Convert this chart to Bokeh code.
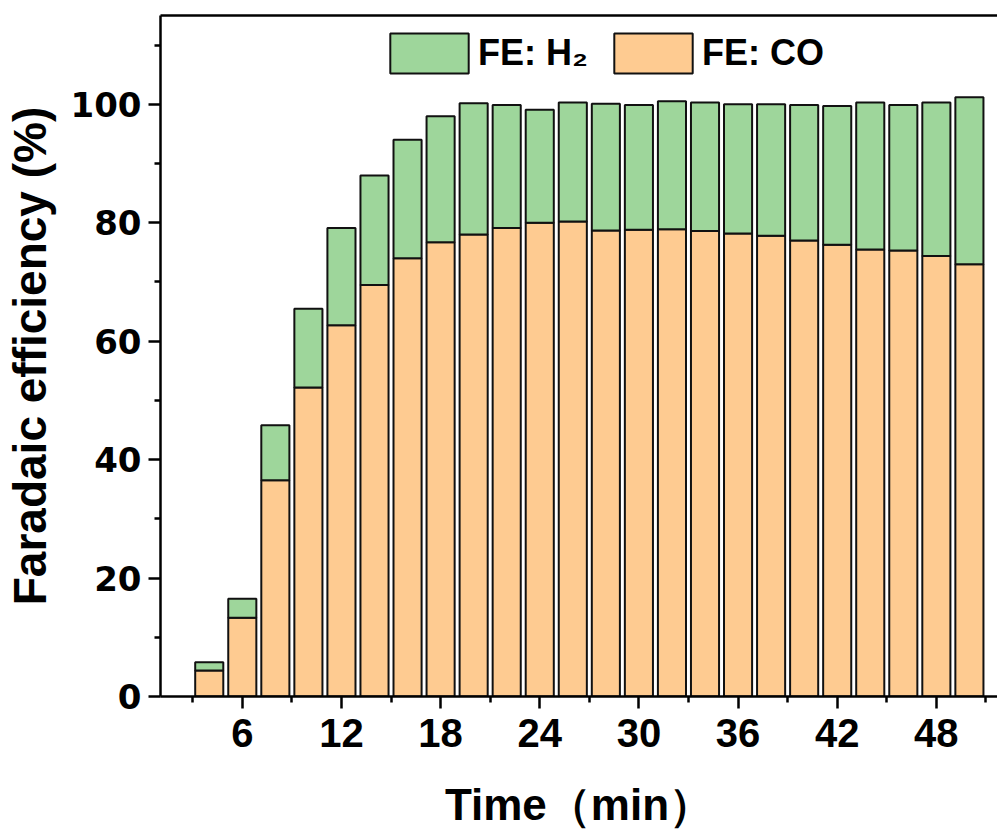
from bokeh.plotting import figure
from bokeh.models import (ColumnDataSource, Range1d, FixedTicker, Legend, LegendItem,
                          LinearAxis)
from bokeh.embed import file_html
from bokeh.resources import INLINE

# ---- data ----
time_min = [4, 6, 8, 10, 12, 14, 16, 18, 20, 22, 24, 26, 28, 30, 32, 34, 36, 38, 40, 42, 44, 46, 48, 50]
fe_co = [4.4, 13.3, 36.5, 52.2, 62.7, 69.5, 74.0, 76.7, 78.0, 79.1, 80.0, 80.2,
         78.7, 78.8, 78.9, 78.6, 78.2, 77.8, 77.0, 76.3, 75.5, 75.3, 74.4, 73.0]
fe_h2 = [1.4, 3.2, 9.3, 13.3, 16.4, 18.5, 20.0, 21.3, 22.2, 20.8, 19.1, 20.1,
         21.4, 21.1, 21.6, 21.7, 21.8, 22.2, 22.9, 23.4, 24.8, 24.6, 25.9, 28.2]
x_ticks = [6, 12, 18, 24, 30, 36, 42, 48]
x_minor = [3, 9, 15, 21, 27, 33, 39, 45, 51]
y_ticks = [0, 20, 40, 60, 80, 100]
y_minor = [10, 30, 50, 70, 90, 110]

GREEN = "#9ED69B"
ORANGE = "#FECB91"

src = ColumnDataSource(dict(t=time_min, co=fe_co, h2=fe_h2))

p = figure(width=997, height=833, output_backend="svg", toolbar_location=None,
           x_range=Range1d(1.05, 51.7), y_range=Range1d(0, 115),
           min_border_left=157, min_border_right=0, min_border_top=15, min_border_bottom=137)
p.outline_line_color = None
p.grid.visible = False

r = p.vbar_stack(["co", "h2"], x="t", width=1.7, source=src,
                 fill_color=[ORANGE, GREEN], line_color="#111111", line_width=2)

legend = Legend(items=[LegendItem(label="FE: H₂", renderers=[r[1]]),
                       LegendItem(label="FE: CO", renderers=[r[0]])],
                orientation="horizontal", location=(220, 618),
                glyph_width=98, glyph_height=50, label_standoff=0, spacing=16,
                padding=0, margin=0, border_line_color=None, background_fill_alpha=0,
                label_text_font="Liberation Sans", label_text_font_style="bold",
                label_text_color="black",
                label_text_font_size="36px", label_height=50)
p.add_layout(legend, "center")

xa = p.xaxis[0]
xa.ticker = FixedTicker(ticks=x_ticks, minor_ticks=x_minor)
xa.axis_label = "Time（min）"
ya = p.yaxis[0]
ya.ticker = FixedTicker(ticks=y_ticks, minor_ticks=y_minor)
ya.axis_label = "Faradaic efficiency (%)"

for ax in (xa, ya):
    ax.axis_line_width = 2.5
    ax.axis_line_color = "black"
    ax.major_tick_line_width = 2.5
    ax.minor_tick_line_width = 2.5
    ax.major_tick_in = 0
    ax.major_tick_out = 12
    ax.minor_tick_in = 0
    ax.minor_tick_out = 6
    ax.major_label_text_color = "black"
    ax.axis_label_text_color = "black"
    ax.axis_label_text_font_style = "bold"

xa.major_label_text_font = "Liberation Sans"
xa.major_label_text_font_style = "bold"
xa.major_label_text_font_size = "40px"
xa.major_label_standoff = 10
xa.axis_label_text_font = "Liberation Sans"
xa.axis_label_text_font_size = "44px"
xa.axis_label_standoff = 30

ya.major_label_text_font = "DejaVu Sans"
ya.major_label_text_font_style = "bold"
ya.major_label_text_font_size = "34px"
ya.major_label_standoff = 7
ya.axis_label_text_font = "Liberation Sans"
ya.axis_label_text_font_size = "46px"
ya.axis_label_standoff = 12

top = LinearAxis(ticker=FixedTicker(ticks=[]), major_label_text_font_size="0px",
                 axis_line_width=2.5, major_tick_line_color=None, minor_tick_line_color=None)
p.add_layout(top, "above")

open("out.html", "w").write(file_html(p, INLINE))
